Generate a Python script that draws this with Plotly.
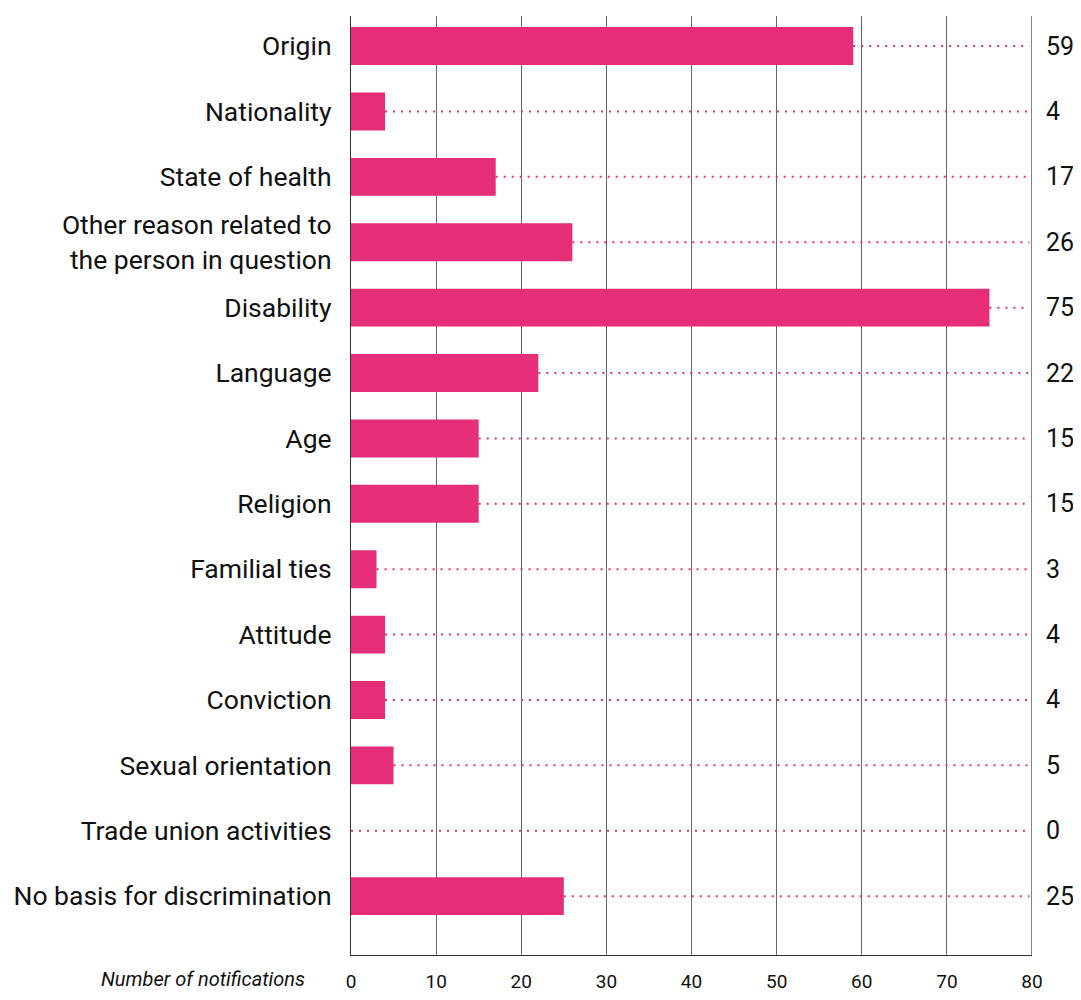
import plotly.graph_objects as go

categories = ["Origin", "Nationality", "State of health",
              "Other reason related to<br>the person in question", "Disability",
              "Language", "Age", "Religion", "Familial ties", "Attitude",
              "Conviction", "Sexual orientation", "Trade union activities",
              "No basis for discrimination"]
values = [59, 4, 17, 26, 75, 22, 15, 15, 3, 4, 4, 5, 0, 25]
x_ticks = [0, 10, 20, 30, 40, 50, 60, 70, 80]
x_title = "Number of notifications"

PINK = "#E62D78"
FONT = "Roboto"

fig = go.Figure()

# dotted leader lines
lx, ly = [], []
for c, v in zip(categories, values):
    lx += [v, 79.7, None]
    ly += [c, c, None]
fig.add_trace(go.Scatter(x=lx, y=ly, mode="lines",
                         line=dict(color=PINK, width=2, dash="2px,6px"),
                         hoverinfo="skip", showlegend=False))

fig.add_trace(go.Bar(x=values, y=categories, orientation="h",
                     marker=dict(color=PINK, line=dict(width=0)),
                     width=0.58, showlegend=False))

for c, v in zip(categories, values):
    fig.add_annotation(x=80, y=c, xref="x", yref="y", text=str(v),
                       showarrow=False, xanchor="left", xshift=12,
                       font=dict(family=FONT, size=25, color="#111"))

fig.add_annotation(x=0, y=0, xref="paper", yref="paper", text="<i>" + x_title + "</i>",
                   showarrow=False, xanchor="right", yanchor="middle",
                   xshift=-44, yshift=-24,
                   font=dict(family=FONT, size=20, color="#111"))

# right border line
fig.add_shape(type="line", x0=80, x1=80, y0=0, y1=1, xref="x", yref="paper",
              line=dict(color="#333", width=1.2))

fig.update_layout(
    width=1073, height=984,
    margin=dict(l=343, r=49, t=8, b=37),
    plot_bgcolor="white", paper_bgcolor="white",
    font=dict(family=FONT, color="#111"),
    xaxis=dict(range=[0, 80], tickvals=x_ticks, ticktext=[str(t) for t in x_ticks],
               showgrid=True, gridcolor="#666", gridwidth=1.2,
               showline=True, linecolor="#333", linewidth=1.2,
               zeroline=False, ticks="", ticklabelstandoff=9, automargin=False,
               tickfont=dict(family=FONT, size=19, color="#111")),
    yaxis=dict(categoryorder="array", categoryarray=categories,
               range=[13.9, -0.46], showgrid=False, zeroline=False,
               showline=True, linecolor="#333", linewidth=1.2, automargin=False,
               ticks="", ticklabelstandoff=13,
               tickfont=dict(family=FONT, size=26.5, color="#111")),
)

fig.write_html("out.html")
